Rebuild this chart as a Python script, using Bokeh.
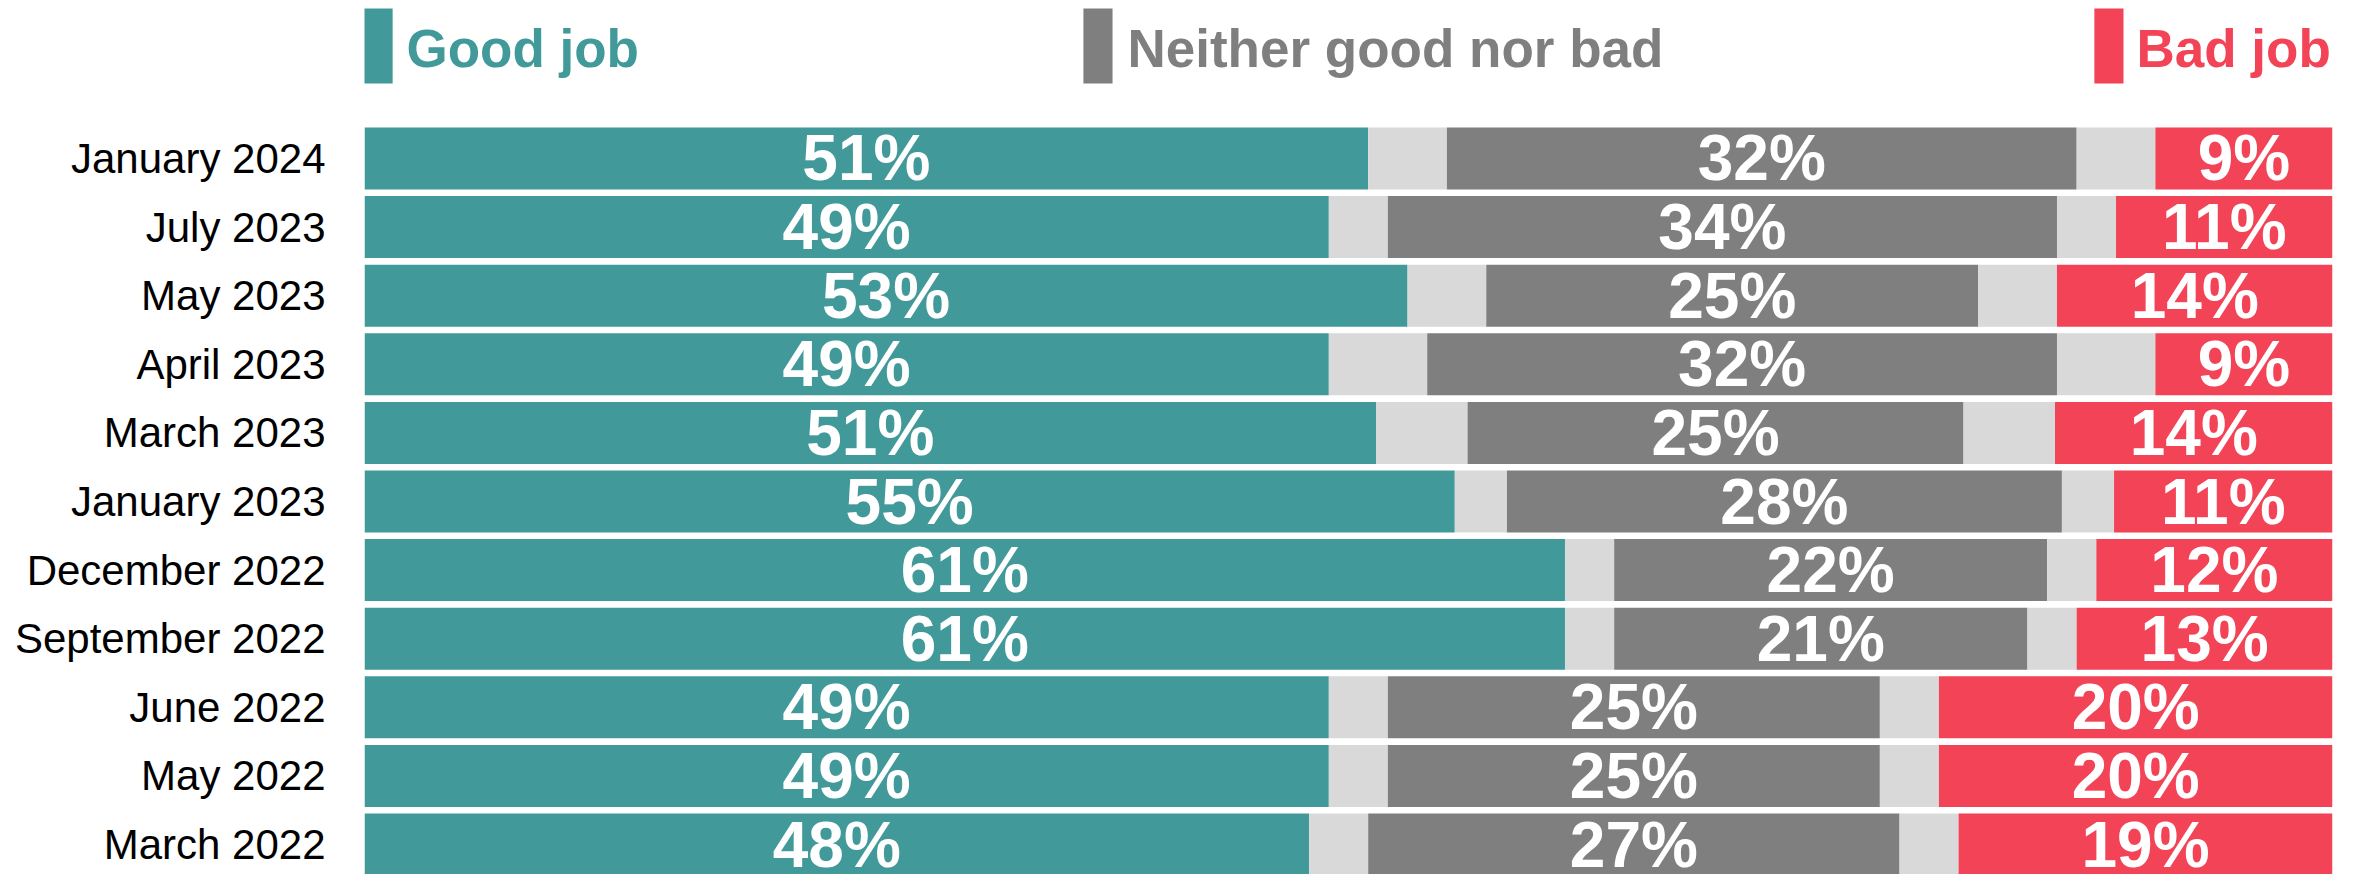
from bokeh.plotting import figure
from bokeh.models import ColumnDataSource, Range1d, FixedTicker
from bokeh.core.properties import value
from bokeh.embed import file_html
from bokeh.resources import INLINE

# ---- data ----
months = ["January 2024", "July 2023", "May 2023", "April 2023", "March 2023",
          "January 2023", "December 2022", "September 2022", "June 2022",
          "May 2022", "March 2022"]
good = [51, 49, 53, 49, 51.4, 55.4, 61, 61, 49, 49, 48]
neither = [32, 34, 25, 32, 25.2, 28.2, 22, 21, 25, 25, 27]
bad = [9, 11, 14, 9, 14.1, 11.1, 12, 13, 20, 20, 19]
dont_know = [8, 6, 8, 10, 9.3, 5.3, 5, 5, 6, 6, 6]

legend_names = ["Good job", "Neither good nor bad", "Bad job"]

# ---- styles ----
TEAL = "#42999A"
GREY = "#7F7F7F"
LIGHT = "#D9D9D9"
RED = "#F24357"
FONT = "Liberation Sans"

n = len(months)
ys = [-i for i in range(n)]

g_left = [0.0] * n
g_right = good[:]
dk1_left = g_right
dk1_right = [g + d / 2 for g, d in zip(good, dont_know)]
n_left = dk1_right
n_right = [a + b for a, b in zip(n_left, neither)]
dk2_left = n_right
dk2_right = [a + d / 2 for a, d in zip(n_right, dont_know)]
b_left = dk2_right
b_right = [a + b for a, b in zip(b_left, bad)]

p = figure(width=2356, height=874, output_backend="svg", toolbar_location=None,
           x_range=Range1d(0, 100), y_range=Range1d(-10.4373, 2.3032),
           min_border_left=364, min_border_right=24, min_border_top=0,
           min_border_bottom=0)
p.xaxis.visible = False
p.grid.visible = False
p.outline_line_color = None
p.background_fill_color = "white"

H = 0.904
for left, right, col in [(g_left, g_right, TEAL), (dk1_left, dk1_right, LIGHT),
                         (n_left, n_right, GREY), (dk2_left, dk2_right, LIGHT),
                         (b_left, b_right, RED)]:
    src = ColumnDataSource(dict(y=ys, left=left, right=right))
    p.hbar(y="y", left="left", right="right", height=H, source=src,
           fill_color=col, line_color=None)

# value labels
lx, ly, lt = [], [], []
for vals, lefts in [(good, g_left), (neither, n_left), (bad, b_left)]:
    for i in range(n):
        lx.append(lefts[i] + vals[i] / 2)
        ly.append(ys[i])
        lt.append(f"{round(vals[i])}%")
p.text(x="x", y="y", text="t", source=ColumnDataSource(dict(x=lx, y=ly, t=lt)),
       text_align="center", text_baseline="middle", text_color="white",
       text_font=value(FONT), text_font_style="bold", text_font_size="64px")

# legend
mk_left = [-0.05, 36.53, 87.9]
mk_w = 1.48
txt_x = [2.13, 38.77, 90.04]
cols = [TEAL, GREY, RED]
p.quad(left=mk_left, right=[m + mk_w for m in mk_left], top=[2.1866] * 3,
       bottom=[1.093] * 3, fill_color=cols, line_color=None)
p.text(x=txt_x, y=[1.61] * 3, text=legend_names, text_color=cols,
       text_align="left", text_baseline="alphabetic",
       text_font=value(FONT), text_font_style="bold", text_font_size="53px")

# y axis with month labels
p.yaxis.ticker = FixedTicker(ticks=ys)
p.yaxis.major_label_overrides = {y: m for y, m in zip(ys, months)}
p.yaxis.axis_line_color = None
p.yaxis.major_tick_line_color = None
p.yaxis.minor_tick_line_color = None
p.yaxis.major_tick_out = 0
p.yaxis.major_tick_in = 0
p.yaxis.major_label_standoff = 39
p.yaxis.major_label_text_font = FONT
p.yaxis.major_label_text_font_size = "42px"
p.yaxis.major_label_text_color = "black"

open("out.html", "w").write(file_html(p, INLINE))
